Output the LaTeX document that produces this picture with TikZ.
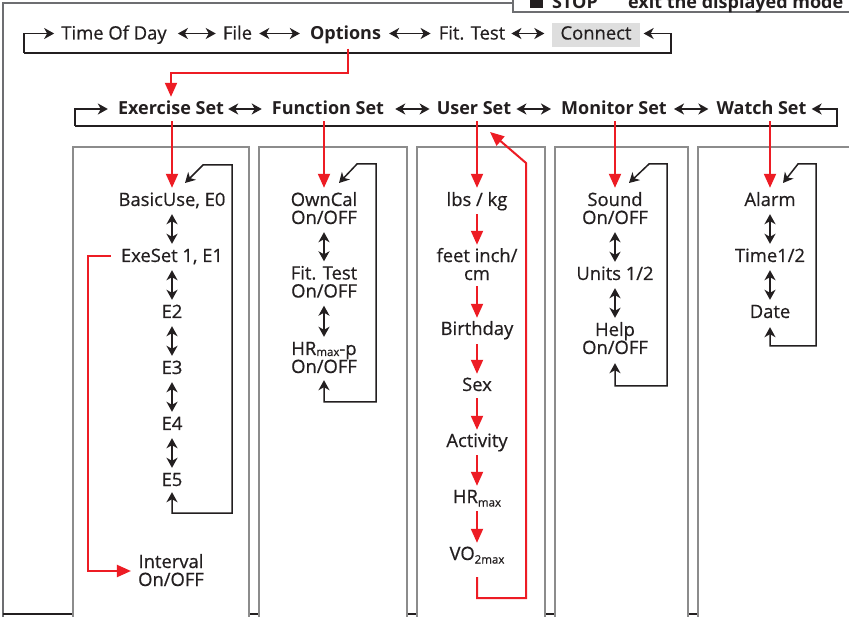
\documentclass[tikz,border=0pt]{standalone}
\usepackage{fontspec}
\setmainfont{Open Sans}[UprightFeatures={FakeBold=0.6}]
\usetikzlibrary{arrows.meta}
\definecolor{ink}{HTML}{231F20}
\definecolor{rd}{HTML}{ED1C24}
\definecolor{framegray}{HTML}{6D6E71}
\definecolor{colgray}{HTML}{8C8C8C}
\definecolor{shade}{HTML}{DEDEDE}
\newcommand\lbfont{\fontsize{18.4}{18}\selectfont}
\newcommand\twol[2]{\rule{0pt}{14pt}#1\\#2\rule[-2pt]{0pt}{2pt}}
\newcommand\lowsub[2][-3.5pt]{\raisebox{#1}{\fontsize{11.5}{12}\selectfont #2}}

\begin{document}
\begin{tikzpicture}[x=1pt,y=-1pt,
  txt/.style={inner sep=0pt,font=\lbfont,text=ink,text height=14pt,text depth=2pt},
  txttwo/.style={inner sep=0pt,font=\lbfont,text=ink,align=center},
  hdr/.style={txt,font=\fontsize{18}{18}\selectfont\bfseries},
  tipk/.tip={Stealth[length=10pt,width=11pt,inset=3pt]},
  dbl/.style={draw=ink,line width=1.8pt,tipk-tipk},
  sing/.style={draw=ink,line width=1.6pt,-tipk},
  loopl/.style={draw=ink,line width=1.5pt,tipk-tipk},
  redarr/.style={draw=rd,line width=2pt,-{Triangle[length=14pt,width=12pt]}},
  colbox/.style={draw=colgray,fill=white,line width=1.3pt}]

\useasboundingbox (0,0) rectangle (849,617);
\clip (0,0) rectangle (849,617);
\fill[white] (0,0) rectangle (849,617);

% outer frame and the base line behind the columns
\draw[framegray,line width=1.5pt] (3,640) -- (3,3) -- (870,3);
\draw[ink,line width=1.2pt] (3,614) -- (870,614);

% column panels
\draw[colbox] (73,147) rectangle (249,640);
\draw[colbox] (259,147) rectangle (407,640);
\draw[colbox] (417,147) rectangle (545,640);
\draw[colbox] (555,147) rectangle (688,640);
\draw[colbox] (698,147) rectangle (880,640);

% legend box, top right
\draw[framegray,fill=white,line width=1.2pt] (513,-30) rectangle (880,12);
\fill[ink] (530,-6) rectangle (543,8);
\node[hdr,anchor=base west] (stop) at (552,8.5) {STOP};
\node[hdr,anchor=base west] (exitm) at (628,8.5) {exit the displayed mode};

% main menu row
\node[txt] (tod) at (114,33.5) {Time Of Day};
\node[txt] (file) at (237.5,33.5) {File};
\node[hdr] (opt) at (345.5,33.5) {Options};
\node[txt] (fit) at (472,33.5) {Fit. Test};
\node[txt,fill=shade,inner xsep=9pt,inner ysep=2.5pt,text depth=5pt,anchor=base] (con) at (596,39.5) {Connect};

\draw[dbl,shorten <=11pt,shorten >=7pt] (tod.east) -- (file.west);
\draw[dbl,shorten <=7pt,shorten >=10pt] (file.east) -- (opt.west);
\draw[dbl,shorten <=8pt,shorten >=8pt] (opt.east) -- (fit.west);
\draw[dbl,shorten <=6pt,shorten >=7pt] (fit.east) -- ([yshift=1.5pt]con.west);

\coordinate (t1l) at (24,53);
\coordinate (t1r) at (671,53);
\draw[sing,shorten >=7pt] (t1l) |- (tod.west);
\draw[sing,shorten >=3pt] (t1l) -- (t1r) |- ([yshift=1.5pt]con.east);

% options sub-menu row
\node[hdr] (ex) at (171,109) {Exercise Set};
\node[hdr] (fn) at (328,109) {Function Set};
\node[hdr] (us) at (474,109) {User Set};
\node[hdr] (mo) at (614,109) {Monitor Set};
\node[hdr] (wa) at (761.5,109) {Watch Set};

\draw[dbl,shorten <=4pt,shorten >=10pt] (ex.east) -- (fn.west);
\draw[dbl,shorten <=11pt,shorten >=7pt] (fn.east) -- (us.west);
\draw[dbl,shorten <=5pt,shorten >=10pt] (us.east) -- (mo.west);
\draw[dbl,shorten <=7pt,shorten >=8pt] (mo.east) -- (wa.west);

\coordinate (t2l) at (75,126);
\coordinate (t2r) at (837,126);
\draw[sing,shorten >=10pt] (t2l) |- (ex.west);
\draw[sing,shorten >=5pt] (t2l) -- (t2r) |- (wa.east);

\coordinate (r1a) at (348,73);
\draw[redarr,shorten <=7pt,shorten >=4pt] ([xshift=2.5pt]opt.south) -- (r1a) -| (ex.north);

% column 1: Exercise Set
\node[txt] (c1a) at (172,200) {BasicUse, E0};
\node[txt] (c1b) at (172,256) {ExeSet 1, E1};
\node[txt] (c1c) at (172,312) {E2};
\node[txt] (c1d) at (172,368) {E3};
\node[txt] (c1e) at (172,424) {E4};
\node[txt] (c1f) at (172,480) {E5};
\node[txttwo] (c1g) at (171,571) {\twol{Interval}{On/OFF}};

\draw[dbl,shorten <=6pt,shorten >=4pt] (c1a) -- (c1b);
\draw[dbl,shorten <=6pt,shorten >=4pt] (c1b) -- (c1c);
\draw[dbl,shorten <=6pt,shorten >=4pt] (c1c) -- (c1d);
\draw[dbl,shorten <=6pt,shorten >=4pt] (c1d) -- (c1e);
\draw[dbl,shorten <=6pt,shorten >=4pt] (c1e) -- (c1f);

\coordinate (l1a) at (232,513);
\coordinate (l1b) at (232,165);
\coordinate (l1c) at (203,165);
\coordinate (l1d) at (185,183);
\draw[loopl,shorten <=4pt] (c1f.south) |- (l1a) -- (l1b) -- (l1c) -- (l1d);

\coordinate (c1v) at (88,571);
\draw[redarr,shorten <=10pt,shorten >=7pt] (c1b.west) -| (c1v) -- (c1g.west);
\draw[redarr,shorten <=4pt,shorten >=4pt] (c1a |- ex.south) -- (c1a.north);

% column 2: Function Set
\node[txttwo] (c2a) at (324,209) {\twol{OwnCal}{On/OFF}};
\node[txttwo] (c2b) at (324,282.5) {\twol{Fit. Test}{On/OFF}};
\node[txttwo] (c2c) at (324,358) {\twol{HR\lowsub[-1pt]{max}-p}{On/OFF}};

\draw[dbl,shorten <=6pt,shorten >=4pt] (c2a) -- (c2b);
\draw[dbl,shorten <=6pt,shorten >=4pt] (c2b) -- (c2c);

\coordinate (l2a) at (376,402);
\coordinate (l2b) at (376,164);
\coordinate (l2c) at (357,164);
\coordinate (l2d) at (339,183);
\draw[loopl,shorten <=5pt] (c2c.south) |- (l2a) -- (l2b) -- (l2c) -- (l2d);
\draw[redarr,shorten <=4pt,shorten >=4pt] (c2a |- fn.south) -- (c2a.north);

% column 3: User Set
\node[txt] (c3a) at (477,200) {lbs / kg};
\node[txttwo] (c3b) at (477,265) {\twol{feet inch/}{cm}};
\node[txt] (c3c) at (477,329) {Birthday};
\node[txt] (c3d) at (477,385) {Sex};
\node[txt] (c3e) at (477,441) {Activity};
\node[txt] (c3f) at (477,497) {HR\lowsub{max}};
\node[txt] (c3g) at (477,554) {VO\lowsub{2max}};

\draw[redarr,shorten <=4pt,shorten >=4pt] (c3a |- us.south) -- (c3a.north);
\draw[redarr,shorten <=6pt,shorten >=3pt] (c3a) -- (c3b);
\draw[redarr,shorten <=4pt,shorten >=3pt] (c3b) -- (c3c);
\draw[redarr,shorten <=7pt,shorten >=3pt] (c3c) -- (c3d);
\draw[redarr,shorten <=5pt,shorten >=3pt] (c3d) -- (c3e);
\draw[redarr,shorten <=6pt,shorten >=3pt] (c3e) -- (c3f);
\draw[redarr,shorten <=6pt,shorten >=3pt] (c3f) -- (c3g);

\coordinate (r3a) at (526,598);
\coordinate (r3b) at (526,163);
\coordinate (r3c) at (490,132);
\draw[redarr,shorten <=15pt] (c3g.south) |- (r3a) -- (r3b) -- (r3c);

% column 4: Monitor Set
\node[txttwo] (c4a) at (615,209) {\twol{Sound}{On/OFF}};
\node[txt] (c4b) at (615,274) {Units 1/2};
\node[txttwo] (c4c) at (615,339) {\twol{Help}{On/OFF}};

\draw[dbl,shorten <=6pt,shorten >=4pt] (c4a) -- (c4b);
\draw[dbl,shorten <=6pt,shorten >=4pt] (c4b) -- (c4c);

\coordinate (l4a) at (667,386);
\coordinate (l4b) at (667,164);
\coordinate (l4c) at (649,164);
\coordinate (l4d) at (629,183);
\draw[loopl,shorten <=7pt] (c4c.south) |- (l4a) -- (l4b) -- (l4c) -- (l4d);
\draw[redarr,shorten <=4pt,shorten >=4pt] (c4a |- mo.south) -- (c4a.north);

% column 5: Watch Set
\node[txt] (c5a) at (770,200) {Alarm};
\node[txt] (c5b) at (770,256) {Time1/2};
\node[txt] (c5c) at (770,312) {Date};

\draw[dbl,shorten <=6pt,shorten >=4pt] (c5a) -- (c5b);
\draw[dbl,shorten <=6pt,shorten >=4pt] (c5b) -- (c5c);

\coordinate (l5a) at (816,346);
\coordinate (l5b) at (816,164);
\coordinate (l5c) at (798,164);
\coordinate (l5d) at (783,183);
\draw[loopl,shorten <=7pt] (c5c.south) |- (l5a) -- (l5b) -- (l5c) -- (l5d);
\draw[redarr,shorten <=4pt,shorten >=4pt] (c5a |- wa.south) -- (c5a.north);
\end{tikzpicture}
\end{document}
